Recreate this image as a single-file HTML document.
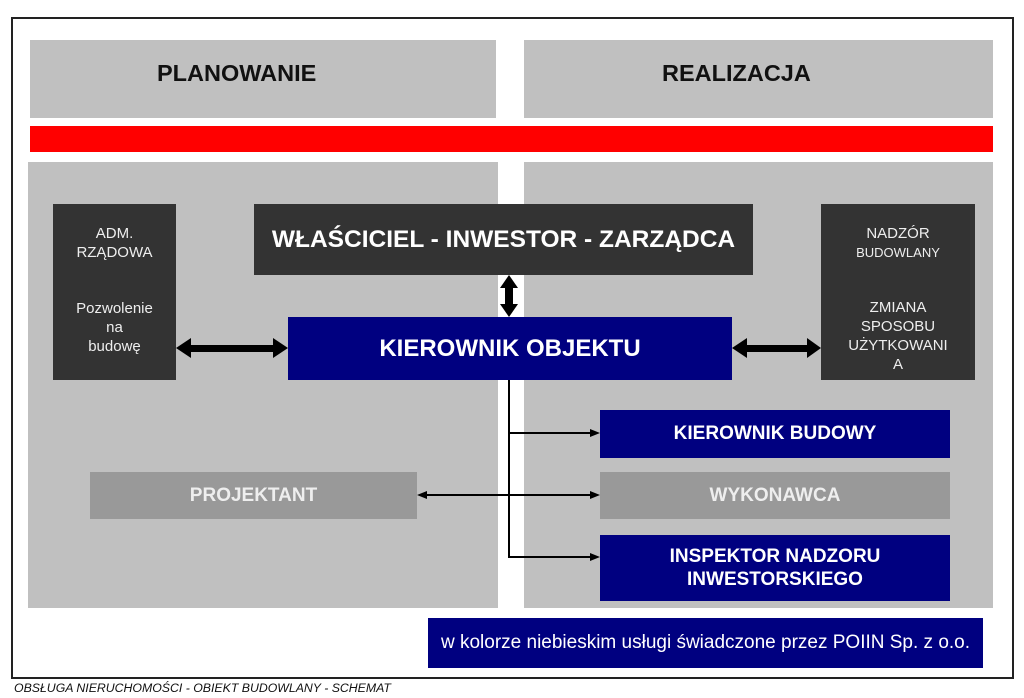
<!DOCTYPE html>
<html><head><meta charset="utf-8"><style>
body{margin:0;width:1024px;height:698px;background:#fff;position:relative;overflow:hidden;font-family:"Liberation Sans",sans-serif}
div.b{position:absolute;box-sizing:border-box;display:flex;align-items:center;justify-content:center;text-align:center}
.t{position:absolute;white-space:nowrap}
</style></head><body>
<div class="b" style="left:11px;top:17px;width:1003px;height:662px;border:2px solid #222"></div>
<div class="b" style="left:30px;top:40px;width:466px;height:78px;background:#c0c0c0"></div>
<div class="t" style="left:157px;top:60px;font-size:23.5px;font-weight:bold;color:#111">PLANOWANIE</div>
<div class="b" style="left:524px;top:40px;width:469px;height:78px;background:#c0c0c0"></div>
<div class="t" style="left:662px;top:60px;font-size:23.5px;font-weight:bold;color:#111">REALIZACJA</div>
<div class="b" style="left:30px;top:126px;width:963px;height:26px;background:#f00"></div>
<div class="b" style="left:28px;top:162px;width:470px;height:446px;background:#c0c0c0"></div>
<div class="b" style="left:524px;top:162px;width:469px;height:446px;background:#c0c0c0"></div>
<div class="b" style="left:53px;top:204px;width:123px;height:176px;background:#333;color:#eee;font-size:15px;line-height:19px;flex-direction:column;justify-content:flex-start;padding-top:20px">ADM.<br>RZĄDOWA<div style="height:37px"></div>Pozwolenie<br>na<br>budowę</div>
<div class="b" style="left:254px;top:204px;width:499px;height:71px;background:#333;color:#fff;font-size:24.5px;font-weight:bold">WŁAŚCICIEL - INWESTOR - ZARZĄDCA</div>
<div class="b" style="left:821px;top:204px;width:154px;height:176px;background:#333;color:#eee;font-size:15px;line-height:19px;flex-direction:column;justify-content:flex-start;padding-top:20px">NADZÓR<br><span style="font-size:13px">BUDOWLANY</span><div style="height:36px"></div>ZMIANA<br>SPOSOBU<br>UŻYTKOWANI<br>A</div>
<div class="b" style="left:288px;top:317px;width:444px;height:63px;background:#000080;color:#fff;font-size:24px;font-weight:bold">KIEROWNIK OBJEKTU</div>
<div class="b" style="left:600px;top:410px;width:350px;height:48px;background:#000080;color:#fff;font-size:19px;font-weight:bold">KIEROWNIK BUDOWY</div>
<div class="b" style="left:90px;top:472px;width:327px;height:47px;background:#999;color:#eee;font-size:19px;font-weight:bold">PROJEKTANT</div>
<div class="b" style="left:600px;top:472px;width:350px;height:47px;background:#999;color:#eee;font-size:19px;font-weight:bold">WYKONAWCA</div>
<div class="b" style="left:600px;top:535px;width:350px;height:66px;background:#000080;color:#fff;font-size:19px;font-weight:bold;line-height:23px">INSPEKTOR NADZORU<br>INWESTORSKIEGO</div>
<div class="b" style="left:428px;top:618px;width:555px;height:50px;background:#000080;color:#fff;font-size:19px">w kolorze niebieskim usługi świadczone przez POIIN Sp. z o.o.</div>
<div class="t" style="left:14px;top:681px;font-size:12.3px;font-style:italic;color:#111">OBSŁUGA NIERUCHOMOŚCI - OBIEKT BUDOWLANY - SCHEMAT</div>
<svg width="1024" height="698" style="position:absolute;left:0;top:0">
<g fill="#000">
<rect x="505" y="286" width="8" height="20"/><polygon points="500,288 509,275 518,288"/><polygon points="500,304 509,317 518,304"/>
<rect x="190" y="345" width="84" height="7"/><polygon points="191,338 176,348 191,358"/><polygon points="273,338 288,348 273,358"/>
<rect x="746" y="345" width="62" height="7"/><polygon points="747,338 732,348 747,358"/><polygon points="807,338 821,348 807,358"/>
<polygon points="590,429 600,433 590,437"/><polygon points="590,491 600,495 590,499"/><polygon points="427,491 417,495 427,499"/><polygon points="590,553 600,557 590,561"/>
</g>
<g stroke="#000" stroke-width="2" fill="none">
<path d="M509 380V557H592"/><path d="M509 433H592"/><path d="M425 495H592"/>
</g>
</svg>
</body></html>
